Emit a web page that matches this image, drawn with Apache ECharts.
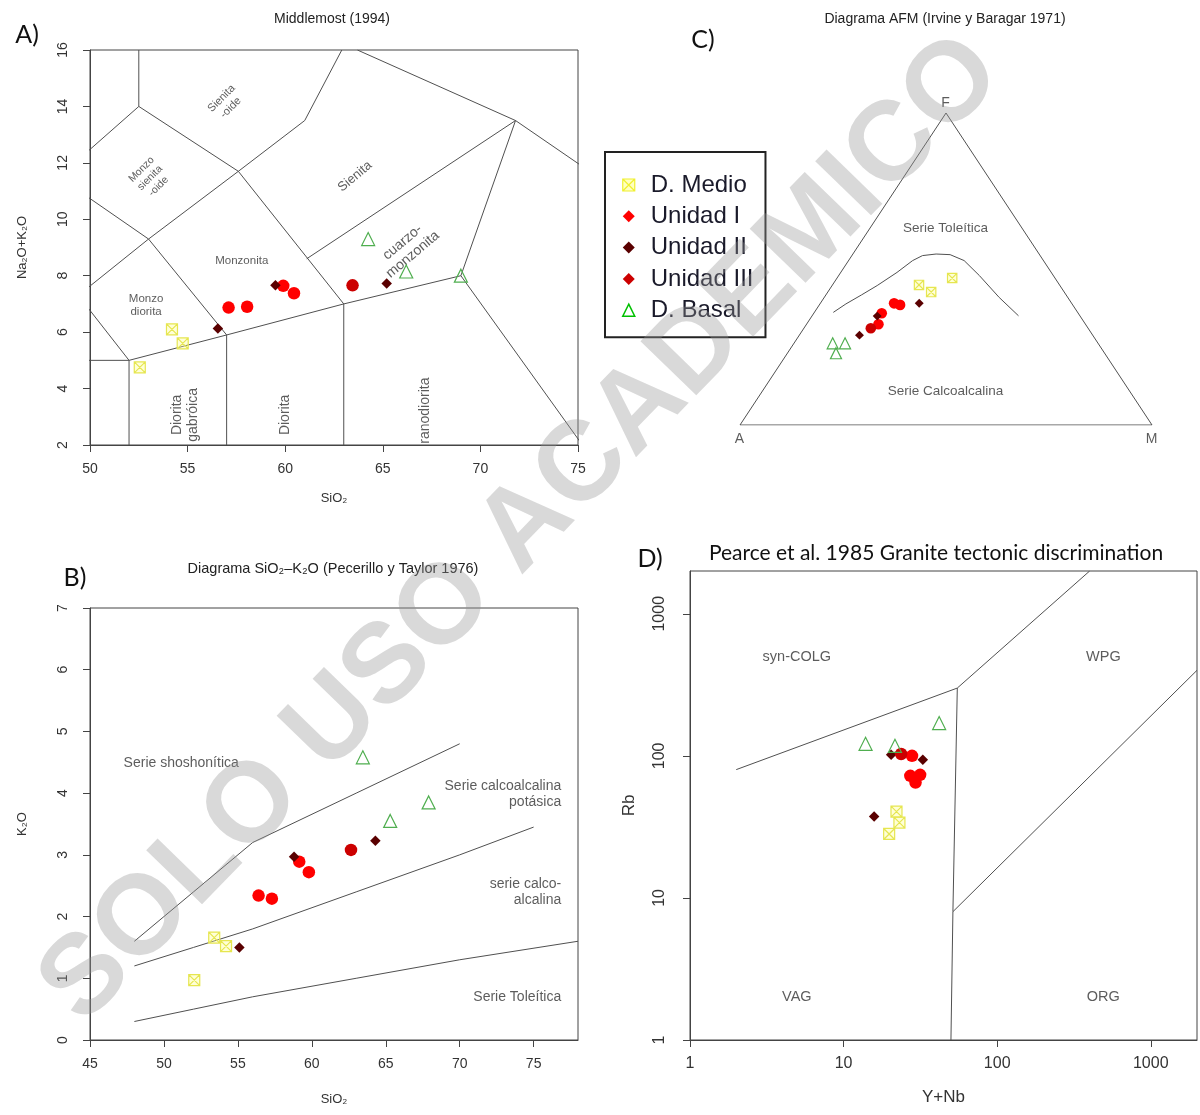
<!DOCTYPE html>
<html><head><meta charset="utf-8">
<script src="https://cdn.jsdelivr.net/npm/echarts@6/dist/echarts.min.js"></script>
<style>html,body{margin:0;padding:0;background:#fff}#c{width:1200px;height:1115px}</style>
</head><body><div id="c"></div>
<script>
// ================= DATA =================
const seriesNames = ['D. Medio', 'Unidad I', 'Unidad II', 'Unidad III', 'D. Basal'];

// ---- Panel A: Middlemost (1994), SiO2 vs Na2O+K2O ----
const tasMedio = [[54.2, 6.1], [54.75, 5.6], [52.55, 4.75]];
const tasU1 = [[57.1, 6.87], [58.05, 6.9], [59.9, 7.64], [60.45, 7.38]];
const tasU2 = [[59.5, 7.66], [56.55, 6.13], [65.2, 7.72]];
const tasU3 = [[63.45, 7.66]];
const tasBasal = [[64.25, 9.3], [66.2, 8.15], [69.0, 8.0]];
const tasTicksX = [50, 55, 60, 65, 70, 75];
const tasTicksY = [2, 4, 6, 8, 10, 12, 14, 16];
const tasBoundaries = [
  [[52.5, 16], [52.5, 14]],
  [[48.4, 11.5], [52.5, 14]],
  [[52.5, 14], [57.6, 11.7], [63, 7]],
  [[57.6, 11.7], [61, 13.5], [62.9, 16]],
  [[63.7, 16], [71.8, 13.5], [85.9, 6.8]],
  [[61.1, 8.6], [71.8, 13.5]],
  [[69, 8], [71.8, 13.5]],
  [[48.4, 11.5], [53, 9.3], [57, 5.9]],
  [[53, 9.3], [57.6, 11.7]],
  [[49.4, 7.3], [53, 9.3]],
  [[49.4, 7.3], [52, 5]],
  [[41, 5], [52, 5]],
  [[52, 2], [52, 5], [57, 5.9], [63, 7], [69, 8]],
  [[57, 2], [57, 5.9]],
  [[63, 2], [63, 7]],
  [[69, 8], [77.3, 0]]
];
const tasFieldLabels = [
  {text: 'Sienita\n-oide', x: 57.0, y: 14.1, rot: 45, size: 11},
  {text: 'Monzo\nsienita\n-oide', x: 53.1, y: 11.45, rot: 45, size: 10.5},
  {text: 'Sienita', x: 63.6, y: 11.5, rot: 40, size: 13},
  {text: 'cuarzo-\nmonzonita', x: 66.3, y: 8.95, rot: 40, size: 14},
  {text: 'Monzonita', x: 57.8, y: 8.5, rot: 0, size: 11.5},
  {text: 'Monzo\ndiorita', x: 52.9, y: 6.95, rot: 0, size: 11.5},
  {text: 'Diorita\ngabróica', x: 54.9, y: 3.05, rot: 90, size: 14},
  {text: 'Diorita', x: 60.0, y: 3.05, rot: 90, size: 14},
  {text: 'ranodiorita', x: 67.2, y: 3.2, rot: 90, size: 14}
];

// ---- Panel B: SiO2 vs K2O (Peccerillo & Taylor 1976) ----
const ptMedio = [[53.4, 1.66], [54.2, 1.52], [52.05, 0.97]];
const ptU1 = [[56.4, 2.34], [57.3, 2.29], [59.15, 2.89], [59.8, 2.72]];
const ptU2 = [[58.8, 2.97], [55.1, 1.5], [64.3, 3.23]];
const ptU3 = [[62.65, 3.08]];
const ptBasal = [[63.45, 4.58], [67.9, 3.85], [65.3, 3.55]];
const ptTicksX = [45, 50, 55, 60, 65, 70, 75];
const ptTicksY = [0, 1, 2, 3, 4, 5, 6, 7];
const ptBoundaries = [
  [[48, 1.6], [52, 2.4], [56, 3.2], [63, 4.0], [70, 4.8]],
  [[48, 1.2], [52, 1.5], [56, 1.8], [63, 2.4], [70, 3.0], [75, 3.45]],
  [[48, 0.3], [52, 0.5], [56, 0.7], [63, 1.0], [70, 1.3], [78, 1.6]]
];
const ptFieldLabels = [
  {text: 'Serie shoshonítica', x: 51.2, y: 4.48, align: 'center'},
  {text: 'Serie calcoalcalina\npotásica', x: 76.9, y: 3.97, align: 'right'},
  {text: 'serie calco-\nalcalina', x: 76.9, y: 2.38, align: 'right'},
  {text: 'Serie Toleítica', x: 76.9, y: 0.68, align: 'right'}
];

// ---- Panel C: AFM ternary (Irvine & Baragar 1971), values [A, F, M] ----
const afmMedio = [[34.1, 44.9, 21.0], [32.3, 42.6, 25.1], [24.95, 47.1, 27.95]];
const afmU1 = [[43.1, 39.0, 17.9], [41.9, 38.5, 19.6], [47.7, 35.8, 16.5], [50.25, 32.3, 17.45]];
const afmU2 = [[37.0, 39.0, 24.0], [49.25, 34.9, 15.85], [56.6, 28.8, 14.6]];
const afmU3 = [[52.75, 31.0, 16.25]];
const afmBasal = [[64.4, 26.2, 9.4], [61.4, 26.2, 12.4], [65.2, 23.0, 11.8]];
const afmTriangle = [[100, 0, 0], [0, 100, 0], [0, 0, 100], [100, 0, 0]];
const afmBoundary = [
  [59.3, 36.1, 4.6], [54.9, 38.8, 6.3], [49.65, 41.7, 8.65], [44.35, 44.7, 10.95],
  [37.45, 48.9, 13.65], [31.75, 52.7, 15.55], [28.55, 54.3, 17.15], [25.0, 54.8, 20.2],
  [21.7, 54.6, 23.7], [19.25, 52.7, 28.05], [17.95, 47.9, 34.15], [16.65, 40.9, 42.45],
  [14.9, 35.0, 50.1]
];
const afmFieldLabels = [
  {text: 'Serie Toleítica', afm: [18.6, 62.8, 18.6]},
  {text: 'Serie Calcoalcalina', afm: [44.7, 10.6, 44.7]}
];
const afmVertexLabels = [
  {text: 'A', afm: [100, 0, 0], dy: 15},
  {text: 'F', afm: [0, 100, 0], dy: -9},
  {text: 'M', afm: [0, 0, 100], dy: 15}
];

// ---- Panel D: Pearce et al. (1984) Y+Nb vs Rb ----
const prMedio = [[22.1, 40.5], [23.1, 33.9], [19.8, 28.2]];
const prU1 = [[27.9, 100], [27.2, 72.3], [31.5, 73.5], [29.4, 64.9]];
const prU2 = [[20.4, 101.6], [32.8, 93.7], [15.8, 37.4]];
const prU3 = [[23.7, 103]];
const prBasal = [[41.9, 170], [13.9, 121.5], [21.6, 117.6]];
const prTicks = [1, 10, 100, 1000];
const prBoundaries = [
  [[2, 80], [55, 300], [400, 2000]],
  [[55, 300], [51.5, 8], [50, 1]],
  [[51.5, 8], [2000, 400]]
];
const prFieldLabels = [
  {text: 'syn-COLG', x: 5.0, y: 490},
  {text: 'WPG', x: 495, y: 490},
  {text: 'VAG', x: 5.0, y: 1.98},
  {text: 'ORG', x: 495, y: 1.98}
];

// ================= BUILD =================
const FONT = '"Liberation Sans", Arial, Helvetica, sans-serif';
const TXT = '#333';
const LINE = '#505050';
const AX = '#444';
const H = Math.sqrt(3) / 2;

function afmToXY(p) {
  const s = p[0] + p[1] + p[2];
  const f = p[1] / s, m = p[2] / s;
  return [m + f / 2, f * H];
}

const SQX = 'path://M0,0L10,0L10,10L0,10Z M0,0L10,10 M10,0L0,10';
const markStyle = {
  'D. Medio': {symbol: SQX, size: 11, itemStyle: {color: 'rgba(255,255,140,0.35)', borderColor: '#e6e650', borderWidth: 1.2, opacity: 1}},
  'Unidad I': {symbol: 'circle', size: 12.5, itemStyle: {color: '#ff0000', opacity: 1}},
  'Unidad II': {symbol: 'diamond', size: 10.5, itemStyle: {color: '#5a0000', opacity: 1}},
  'Unidad III': {symbol: 'circle', size: 12.5, itemStyle: {color: '#cc0000', opacity: 1}},
  'D. Basal': {symbol: 'triangle', size: 13, itemStyle: {color: 'rgba(0,0,0,0)', borderColor: '#4fae4f', borderWidth: 1.2, opacity: 1}}
};

const series = [];

function addPoints(gi, name, data, scale) {
  const st = markStyle[name];
  series.push({
    type: 'scatter', name: name, xAxisIndex: gi, yAxisIndex: gi,
    data: data, symbol: st.symbol, symbolSize: st.size * scale,
    itemStyle: st.itemStyle, z: 5, animation: false,
    emphasis: {disabled: true}
  });
}
function addLine(gi, pts) {
  series.push({
    type: 'line', xAxisIndex: gi, yAxisIndex: gi, data: pts,
    symbol: 'none', showSymbol: false, silent: true, clip: true,
    lineStyle: {color: LINE, width: 1}, z: 2, animation: false
  });
}
function addLabels(gi, items) {
  series.push({
    type: 'scatter', xAxisIndex: gi, yAxisIndex: gi, silent: true,
    symbolSize: 1, itemStyle: {color: 'rgba(0,0,0,0)'}, z: 4, animation: false,
    data: items.map(it => ({
      value: it.value,
      label: {
        show: true, formatter: it.text, position: [0, 0], offset: [0, it.dy || 0],
        rotate: it.rot || 0, align: it.align || 'center', verticalAlign: 'middle',
        fontSize: it.size || 13.5, fontFamily: FONT, color: TXT,
        lineHeight: Math.round((it.size || 13.5) * 1.15)
      }
    }))
  });
}

// Panel A
tasBoundaries.forEach(b => addLine(0, b));
addLabels(0, tasFieldLabels.map(l => Object.assign({value: [l.x, l.y]}, l)));
[['D. Medio', tasMedio], ['Unidad I', tasU1], ['Unidad II', tasU2], ['Unidad III', tasU3], ['D. Basal', tasBasal]]
  .forEach(([n, d]) => addPoints(0, n, d, 1));

// Panel B
ptBoundaries.forEach(b => addLine(1, b));
addLabels(1, ptFieldLabels.map(l => Object.assign({value: [l.x, l.y], size: 14}, l)));
[['D. Medio', ptMedio], ['Unidad I', ptU1], ['Unidad II', ptU2], ['Unidad III', ptU3], ['D. Basal', ptBasal]]
  .forEach(([n, d]) => addPoints(1, n, d, 1));

// Panel C
addLine(2, afmTriangle.map(afmToXY));
addLine(2, afmBoundary.map(afmToXY));
addLabels(2, afmFieldLabels.map(l => ({value: afmToXY(l.afm), text: l.text, size: 13.5})));
addLabels(2, afmVertexLabels.map(l => ({value: afmToXY(l.afm), text: l.text, dy: l.dy, size: 14})));
[['D. Medio', afmMedio], ['Unidad I', afmU1], ['Unidad II', afmU2], ['Unidad III', afmU3], ['D. Basal', afmBasal]]
  .forEach(([n, d]) => addPoints(2, n, d.map(afmToXY), 0.85));

// Panel D
prBoundaries.forEach(b => addLine(3, b));
addLabels(3, prFieldLabels.map(l => ({value: [l.x, l.y], text: l.text, size: 14.5})));
[['D. Medio', prMedio], ['Unidad I', prU1], ['Unidad II', prU2], ['Unidad III', prU3], ['D. Basal', prBasal]]
  .forEach(([n, d]) => addPoints(3, n, d, 1));

function valAxis(gi, o) {
  const isY = o.isY;
  const ax = {
    gridIndex: gi, type: o.type || 'value', min: o.min, max: o.max,
    axisLine: {show: true, onZero: false, lineStyle: {color: AX, width: 1}},
    axisTick: {show: true, length: 7, lineStyle: {color: AX}},
    axisLabel: {color: TXT, fontSize: o.fs || 14, fontFamily: FONT, margin: o.margin, rotate: isY ? 90 : 0},
    splitLine: {show: false},
    name: o.name, nameLocation: 'middle', nameGap: o.nameGap, nameRotate: isY ? 90 : 0,
    nameTextStyle: {color: TXT, fontSize: o.nfs || 13, fontFamily: FONT}
  };
  if (o.ticks) {
    ax.axisTick.customValues = o.ticks;
    ax.axisLabel.customValues = o.ticks;
  }
  if (o.type === 'log') {
    ax.logBase = 10;
    ax.axisLabel.showMaxLabel = false;
    ax.axisLabel.formatter = v => String(Math.round(v));
  }
  return ax;
}

const gridStyle = {show: true, borderColor: AX, borderWidth: 1, backgroundColor: 'rgba(0,0,0,0)'};

const legendIcon = {
  'D. Medio': {icon: SQX, itemStyle: {color: 'rgba(255,255,100,0.4)', borderColor: '#f0f030', borderWidth: 1.2}},
  'Unidad I': {icon: 'diamond', itemStyle: {color: '#ff0000'}},
  'Unidad II': {icon: 'diamond', itemStyle: {color: '#5a0000'}},
  'Unidad III': {icon: 'diamond', itemStyle: {color: '#cc0000'}},
  'D. Basal': {icon: 'triangle', itemStyle: {color: 'rgba(0,0,0,0)', borderColor: '#00c000', borderWidth: 1.5}}
};

const option = {
  animation: false,
  backgroundColor: '#fff',
  grid: [
    Object.assign({left: 90, top: 50, width: 488, height: 395}, gridStyle),
    Object.assign({left: 90, top: 608, width: 488, height: 432}, gridStyle),
    {left: 740, top: 113, width: 412, height: 312, show: false},
    Object.assign({left: 690, top: 571, width: 507, height: 469}, gridStyle)
  ],
  xAxis: [
    valAxis(0, {min: 50, max: 75, ticks: tasTicksX, margin: 17, name: 'SiO₂', nameGap: 47}),
    valAxis(1, {min: 45, max: 78, ticks: ptTicksX, margin: 17, name: 'SiO₂', nameGap: 53}),
    {gridIndex: 2, type: 'value', min: 0, max: 1, show: false},
    valAxis(3, {type: 'log', min: 1, max: 2000, margin: 16, fs: 16, name: 'Y+Nb', nameGap: 49, nfs: 17})
  ],
  yAxis: [
    valAxis(0, {isY: true, min: 2, max: 16, ticks: tasTicksY, margin: 20, name: 'Na₂O+K₂O', nameGap: 61}),
    valAxis(1, {isY: true, min: 0, max: 7, ticks: ptTicksY, margin: 20, name: 'K₂O', nameGap: 61}),
    {gridIndex: 2, type: 'value', min: 0, max: H, show: false},
    valAxis(3, {isY: true, type: 'log', min: 1, max: 2000, margin: 22, fs: 16, name: 'Rb', nameGap: 52, nfs: 17})
  ],
  legend: {
    data: seriesNames.map(n => Object.assign({name: n}, legendIcon[n])),
    orient: 'vertical', left: 605, top: 152,
    padding: [21, 12, 15, 17],
    itemWidth: 12, itemHeight: 12, itemGap: 7.3,
    borderColor: '#222', borderWidth: 2, backgroundColor: '#fff',
    textStyle: {fontSize: 24, lineHeight: 24, fontFamily: FONT, color: '#1a1a2a', padding: [0, 0, 0, 11]},
    selectedMode: false
  },
  graphic: [
    {type: 'text', x: 332, y: 19, style: {text: 'Middlemost (1994)', font: '14px ' + FONT, fill: '#222', align: 'center', verticalAlign: 'middle'}},
    {type: 'text', x: 945, y: 19, style: {text: 'Diagrama AFM (Irvine y Baragar 1971)', font: '14px ' + FONT, fill: '#222', align: 'center', verticalAlign: 'middle'}},
    {type: 'text', x: 333, y: 569, style: {text: 'Diagrama SiO₂–K₂O (Pecerillo y Taylor 1976)', font: '14.5px ' + FONT, fill: '#222', align: 'center', verticalAlign: 'middle'}},
    {type: 'text', x: 936, y: 553, style: {text: 'Pearce et al. 1985 Granite tectonic discrimination', font: '21px Lato, "Open Sans", sans-serif', fill: '#111', align: 'center', verticalAlign: 'middle'}},
    {type: 'text', x: 27, y: 35, style: {text: 'A)', font: '25px Lato, "Open Sans", sans-serif', fill: '#111', align: 'center', verticalAlign: 'middle'}},
    {type: 'text', x: 703, y: 40, style: {text: 'C)', font: '25px Lato, "Open Sans", sans-serif', fill: '#111', align: 'center', verticalAlign: 'middle'}},
    {type: 'text', x: 75, y: 578, style: {text: 'B)', font: '25px Lato, "Open Sans", sans-serif', fill: '#111', align: 'center', verticalAlign: 'middle'}},
    {type: 'text', x: 650, y: 559, style: {text: 'D)', font: '25px Lato, "Open Sans", sans-serif', fill: '#111', align: 'center', verticalAlign: 'middle'}},
    {type: 'text', x: 522, y: 530, rotation: 0.80, z: 100, silent: true,
     style: {text: 'SOLO USO ACADEMICO', font: 'bold 113px ' + FONT, fill: 'rgba(150,150,150,0.36)', align: 'center', verticalAlign: 'middle'}}
  ],
  series: series
};

const chart = echarts.init(document.getElementById('c'), null, {renderer: 'canvas', width: 1200, height: 1115});
chart.setOption(option);
</script>
</body></html>
